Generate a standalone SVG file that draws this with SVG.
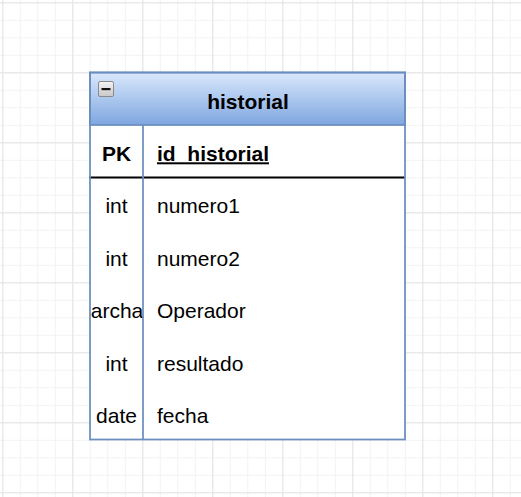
<svg xmlns="http://www.w3.org/2000/svg" width="521" height="497" viewBox="0 0 521 497">
<style>
.t{font-family:"Liberation Sans",Arial,sans-serif;font-size:21px;fill:#000}
.c{text-anchor:middle}
.b{font-weight:bold}
.bd{stroke:#6c8ebf;stroke-width:1.75;fill:none}
</style>
<defs>
<linearGradient id="hdr" x1="0" y1="0" x2="0" y2="1">
<stop offset="0" stop-color="#dae8fc"/>
<stop offset="1" stop-color="#7ea6e0"/>
</linearGradient>
<linearGradient id="ico" x1="0" y1="0" x2="0" y2="1">
<stop offset="0" stop-color="#f4f4f4"/>
<stop offset="1" stop-color="#c8c8c8"/>
</linearGradient>
<pattern id="minor" patternUnits="userSpaceOnUse" x="2.3" y="2.3" width="17.5" height="17.5">
<path d="M0 0.5H17.5M0.5 0V17.5" stroke="#f2f2f2" stroke-width="1" fill="none"/>
</pattern>
<pattern id="major" patternUnits="userSpaceOnUse" x="2.3" y="2.3" width="70" height="70">
<path d="M0 0.5H70M0.5 0V70" stroke="#e3e3e3" stroke-width="1" fill="none"/>
</pattern>
</defs>
<rect width="521" height="497" fill="#fff"/>
<rect x="-1" y="-1" width="523" height="499" fill="url(#minor)"/>
<rect x="-1" y="-1" width="523" height="499" fill="url(#major)"/>
<g id="historial">
<rect x="90" y="72.5" width="315" height="367" fill="#fff"/>
<rect x="90" y="72.5" width="315" height="52.5" fill="url(#hdr)" stroke="#6c8ebf" stroke-width="1.75"/>
<g id="collapse">
<rect x="98.5" y="81.5" width="15" height="15" rx="1.5" fill="url(#ico)" stroke="#8a8a8a" stroke-width="1"/>
<rect x="101.5" y="88" width="9" height="2.2" fill="#111"/>
</g>
<text class="t b c" x="248" y="108.7">historial</text>
<g id="row-pk">
<text class="t b c" x="116.5" y="160.5">PK</text>
<text class="t b" x="157" y="160.5">id_historial</text>
<rect x="157" y="162.3" width="112" height="2" fill="#000"/>
</g>
<line x1="89" y1="177.5" x2="405" y2="177.5" stroke="#000" stroke-width="2"/>
<g id="row-numero1">
<text class="t c" x="116.5" y="213">int</text>
<text class="t" x="157" y="213">numero1</text>
</g>
<g id="row-numero2">
<text class="t c" x="116.5" y="265.5">int</text>
<text class="t" x="157" y="265.5">numero2</text>
</g>
<g id="row-operador">
<text class="t c" x="117" y="318">archa</text>
<text class="t" x="157" y="318">Operador</text>
</g>
<g id="row-resultado">
<text class="t c" x="116.5" y="370.5">int</text>
<text class="t" x="157" y="370.5">resultado</text>
</g>
<g id="row-fecha">
<text class="t c" x="116.5" y="423">date</text>
<text class="t" x="157" y="423">fecha</text>
</g>
<line class="bd" x1="143" y1="125" x2="143" y2="439.5"/>
<rect class="bd" x="90" y="72.5" width="315" height="367"/>
</g>
<g id="connectors"/>
</svg>
